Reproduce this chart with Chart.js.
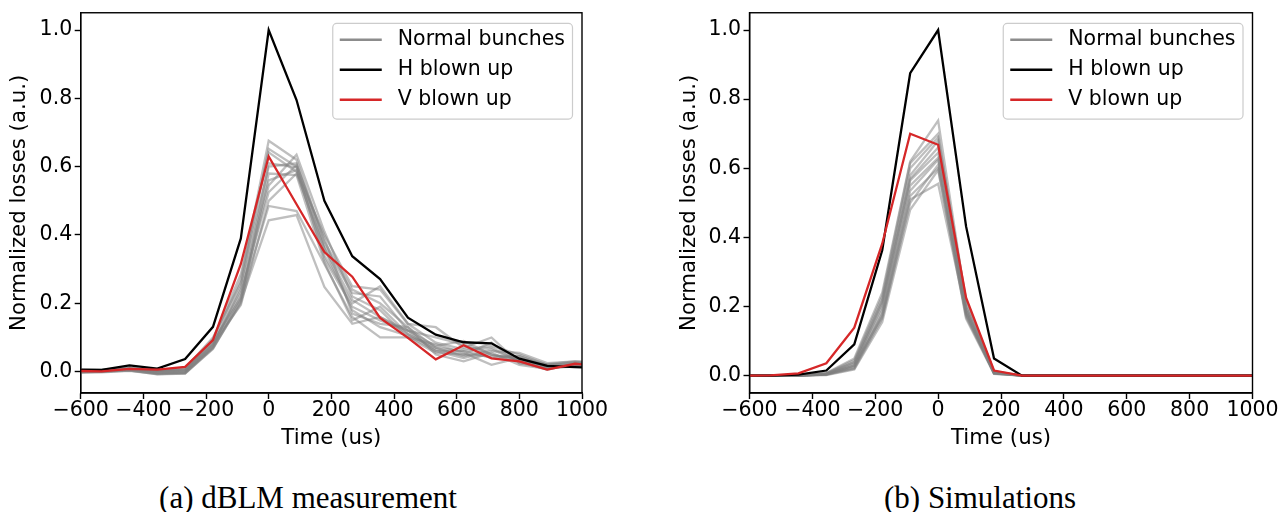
<!DOCTYPE html>
<html><head><meta charset="utf-8">
<script src="https://cdn.jsdelivr.net/npm/chart.js@4.4.1/dist/chart.umd.min.js"></script>
<style>
html,body{margin:0;padding:0;background:#fff;}
#wrap{position:relative;width:1288px;height:512px;overflow:hidden;background:#fff;}
canvas{position:absolute;top:0;}
.cap{position:absolute;top:482px;font-family:"Liberation Serif",serif;font-size:31px;line-height:31px;white-space:nowrap;text-align:center;width:400px;color:#000;}
</style></head><body>
<div id="wrap">
<canvas id="c1" width="644" height="460" style="left:0"></canvas>
<canvas id="c2" width="644" height="460" style="left:644px"></canvas>
<div class="cap" style="left:108px">(a) dBLM measurement</div>
<div class="cap" style="left:780px">(b) Simulations</div>
</div>
<script>
// ---------- data ----------
const times = [-622.2, -533.3, -444.4, -355.6, -266.7, -177.8, -88.9, 0, 88.9, 177.8, 266.7, 355.6, 444.4, 533.3, 622.2, 711.1, 800, 888.9, 977.8, 1066.7];

const xTicks = [-600, -400, -200, 0, 200, 400, 600, 800, 1000];
const yTicks = [0, 0.2, 0.4, 0.6, 0.8, 1.0];
const legendLabels = ['Normal bunches', 'H blown up', 'V blown up'];

// (a) dBLM measurement
const hMeas = [0.005, 0.005, 0.018, 0.009, 0.037, 0.131, 0.39, 1.0, 0.795, 0.50, 0.338, 0.271, 0.158, 0.108, 0.086, 0.083, 0.038, 0.017, 0.013, 0.01];
const vMeas = [0.002, 0.001, 0.008, 0.006, 0.014, 0.092, 0.315, 0.63, 0.49, 0.35, 0.278, 0.157, 0.099, 0.036, 0.077, 0.039, 0.03, 0.006, 0.023, 0.015];
const normalMeas = [
  [0.008, 0.004, 0.010, 0.002, 0.006, 0.085, 0.270, 0.676, 0.620, 0.380, 0.240, 0.200, 0.130, 0.070, 0.060, 0.070, 0.030, 0.015, 0.020, 0.020],
  [0.004, 0.002, 0.006, -0.004, -0.003, 0.075, 0.250, 0.652, 0.600, 0.360, 0.210, 0.160, 0.110, 0.065, 0.050, 0.045, 0.045, 0.020, 0.025, 0.018],
  [0.000, 0.003, 0.008, 0.000, 0.004, 0.095, 0.285, 0.642, 0.585, 0.400, 0.250, 0.240, 0.140, 0.130, 0.070, 0.100, 0.025, 0.010, 0.015, 0.020],
  [-0.003, 0.000, 0.004, -0.008, -0.006, 0.068, 0.210, 0.610, 0.598, 0.330, 0.190, 0.150, 0.120, 0.060, 0.040, 0.060, 0.055, 0.025, 0.030, 0.025],
  [0.006, 0.005, 0.012, 0.004, 0.010, 0.100, 0.260, 0.600, 0.610, 0.370, 0.230, 0.220, 0.120, 0.075, 0.090, 0.050, 0.035, 0.012, 0.020, 0.018],
  [0.002, 0.000, 0.005, -0.005, -0.004, 0.072, 0.220, 0.545, 0.635, 0.410, 0.220, 0.180, 0.100, 0.080, 0.055, 0.020, 0.040, 0.018, 0.028, 0.022],
  [-0.002, 0.001, 0.007, 0.002, 0.002, 0.080, 0.230, 0.525, 0.605, 0.390, 0.170, 0.140, 0.130, 0.050, 0.030, 0.055, 0.020, 0.008, 0.018, 0.020],
  [0.005, 0.003, 0.009, -0.002, 0.000, 0.078, 0.240, 0.560, 0.590, 0.340, 0.200, 0.250, 0.140, 0.085, 0.065, 0.075, 0.050, 0.020, 0.022, 0.025],
  [0.001, -0.001, 0.003, -0.006, -0.002, 0.070, 0.200, 0.580, 0.575, 0.320, 0.150, 0.190, 0.110, 0.070, 0.045, 0.065, 0.030, 0.005, 0.025, 0.020],
  [0.003, 0.002, 0.006, 0.001, 0.003, 0.082, 0.195, 0.500, 0.580, 0.360, 0.180, 0.130, 0.105, 0.060, 0.060, 0.040, 0.045, 0.015, 0.016, 0.018],
  [0.007, 0.004, 0.010, 0.003, 0.008, 0.090, 0.215, 0.485, 0.470, 0.315, 0.160, 0.100, 0.100, 0.055, 0.050, 0.085, 0.025, 0.022, 0.030, 0.028],
  [-0.004, -0.002, 0.002, -0.007, -0.005, 0.066, 0.205, 0.443, 0.458, 0.248, 0.140, 0.160, 0.120, 0.100, 0.080, 0.050, 0.035, 0.010, 0.020, 0.024]
];

// (b) Simulations
const hSim = [0, 0, 0.003, 0.015, 0.091, 0.363, 0.875, 1.0, 0.432, 0.05, 0, 0, 0, 0, 0, 0, 0, 0, 0, 0];
const vSim = [0, 0.001, 0.007, 0.036, 0.139, 0.382, 0.70, 0.668, 0.226, 0.015, 0, 0, 0, 0, 0, 0, 0, 0, 0, 0];
const normalSim = [
  [0, 0, 0.001, 0.008, 0.050, 0.240, 0.620, 0.738, 0.210, 0.012, 0, 0, 0, 0, 0, 0, 0, 0, 0, 0],
  [0, 0, 0.001, 0.007, 0.045, 0.230, 0.615, 0.700, 0.200, 0.010, 0, 0, 0, 0, 0, 0, 0, 0, 0, 0],
  [0, 0, 0.001, 0.006, 0.040, 0.220, 0.600, 0.690, 0.220, 0.013, 0, 0, 0, 0, 0, 0, 0, 0, 0, 0],
  [0, 0, 0.001, 0.006, 0.038, 0.215, 0.580, 0.680, 0.190, 0.009, 0, 0, 0, 0, 0, 0, 0, 0, 0, 0],
  [0, 0, 0.000, 0.005, 0.035, 0.200, 0.570, 0.660, 0.200, 0.008, 0, 0, 0, 0, 0, 0, 0, 0, 0, 0],
  [0, 0, 0.000, 0.005, 0.030, 0.210, 0.565, 0.645, 0.185, 0.010, 0, 0, 0, 0, 0, 0, 0, 0, 0, 0],
  [0, 0, 0.000, 0.004, 0.028, 0.190, 0.550, 0.630, 0.180, 0.007, 0, 0, 0, 0, 0, 0, 0, 0, 0, 0],
  [0, 0, 0.000, 0.004, 0.025, 0.180, 0.535, 0.625, 0.190, 0.009, 0, 0, 0, 0, 0, 0, 0, 0, 0, 0],
  [0, 0, 0.000, 0.003, 0.022, 0.175, 0.520, 0.600, 0.175, 0.006, 0, 0, 0, 0, 0, 0, 0, 0, 0, 0],
  [0, 0, 0.000, 0.003, 0.020, 0.165, 0.500, 0.610, 0.170, 0.008, 0, 0, 0, 0, 0, 0, 0, 0, 0, 0],
  [0, 0, 0.000, 0.002, 0.018, 0.155, 0.480, 0.595, 0.165, 0.005, 0, 0, 0, 0, 0, 0, 0, 0, 0, 0],
  [0, 0, 0.000, 0.004, 0.030, 0.170, 0.510, 0.555, 0.180, 0.007, 0, 0, 0, 0, 0, 0, 0, 0, 0, 0]
];

// ---------- styles ----------
const FONT = 'DejaVu Sans';
const FS = 20.5;
const FS_TITLE = 21.3;
const GRAY_LINE = 'rgba(128,128,128,0.5)';
const GRAY_HANDLE = '#8c8c8c';
const RED = '#d62728';
const LW = 2.3;

const framePlugin = {
  id: 'frame',
  afterDatasetsDraw(chart) {
    const a = chart.chartArea, ctx = chart.ctx;
    ctx.save();
    ctx.strokeStyle = '#000';
    ctx.lineWidth = 1.4;
    ctx.strokeRect(a.left, a.top, a.right - a.left, a.bottom - a.top);
    ctx.restore();
  }
};

const legendPlugin = {
  id: 'mplLegend',
  afterDraw(chart) {
    const ctx = chart.ctx, a = chart.chartArea;
    const colors = [GRAY_HANDLE, '#000', RED];
    ctx.save();
    ctx.font = FS + 'px "' + FONT + '"';
    const tw = Math.max(...legendLabels.map(t => ctx.measureText(t).width));
    const w = 7 + 42 + 16 + tw + 7.5;
    const h = 95.6;
    const x0 = a.right - 9.5 - w;
    const y0 = a.top + 10.7;
    ctx.beginPath();
    ctx.roundRect(x0, y0, w, h, 4);
    ctx.fillStyle = 'rgba(255,255,255,0.8)';
    ctx.fill();
    ctx.strokeStyle = '#cccccc';
    ctx.lineWidth = 1.2;
    ctx.stroke();
    legendLabels.forEach((t, i) => {
      const y = y0 + 16.3 + 30 * i;
      ctx.beginPath();
      ctx.moveTo(x0 + 7, y);
      ctx.lineTo(x0 + 49, y);
      ctx.strokeStyle = colors[i];
      ctx.lineWidth = LW;
      ctx.stroke();
      ctx.fillStyle = '#000';
      ctx.textBaseline = 'middle';
      ctx.textAlign = 'left';
      ctx.fillText(t, x0 + 65, y);
    });
    ctx.restore();
  }
};

function fmtX(v) { return v < 0 ? '\u2212' + Math.abs(v) : String(v); }

function build(id, normals, hData, vData, yMin, yMax, geo) {
  const pts = arr => arr.map((v, i) => ({ x: times[i], y: v }));
  const base = { pointRadius: 0, tension: 0, borderWidth: LW, fill: false };
  // lower "order" is drawn on top: V over H over the normal bunches
  const datasets = [];
  datasets.push(Object.assign({ data: pts(vData), borderColor: RED, order: 0 }, base));
  datasets.push(Object.assign({ data: pts(hData), borderColor: '#000', order: 1 }, base));
  normals.forEach((n, i) => datasets.push(Object.assign({ data: pts(n), borderColor: GRAY_LINE, order: 2 + i }, base)));
  new Chart(document.getElementById(id), {
    type: 'line',
    data: { datasets },
    options: {
      responsive: false, animation: false, devicePixelRatio: 1,
      layout: { padding: { left: 0, right: geo.padRight, top: 12, bottom: 0 } },
      plugins: { legend: { display: false }, tooltip: { enabled: false } },
      scales: {
        x: {
          type: 'linear', min: -600, max: 1000,
          afterBuildTicks: s => { s.ticks = xTicks.map(v => ({ value: v })); },
          afterFit: s => { s.height = 67; },
          grid: { display: true, drawOnChartArea: false, drawTicks: true, tickLength: 6, tickWidth: 1.4, tickColor: '#000' },
          border: { display: true, color: '#000', width: 1.4 },
          ticks: { font: { family: FONT, size: FS, lineHeight: 1.1 }, color: '#000', padding: 0, maxRotation: 0, autoSkip: false, callback: v => fmtX(v) },
          title: { display: true, text: 'Time (us)', color: '#000', font: { family: FONT, size: FS_TITLE, lineHeight: 1.2 }, padding: { top: 0, bottom: 9.0 } }
        },
        y: {
          type: 'linear', min: yMin, max: yMax,
          afterBuildTicks: s => { s.ticks = yTicks.map(v => ({ value: v })); },
          afterFit: s => { s.width = geo.yWidth; },
          grid: { display: true, drawOnChartArea: false, drawTicks: true, tickLength: 6, tickWidth: 1.4, tickColor: '#000' },
          border: { display: true, color: '#000', width: 1.4 },
          ticks: { font: { family: FONT, size: FS, lineHeight: 1.0 }, color: '#000', padding: 2.5, autoSkip: false, callback: v => v.toFixed(1) },
          title: { display: true, text: 'Normalized losses (a.u.)', color: '#000', font: { family: FONT, size: FS_TITLE, lineHeight: 1.2 }, padding: { top: geo.yTitlePad, bottom: 0 } }
        }
      }
    },
    plugins: [framePlugin, legendPlugin]
  });
}

build('c1', normalMeas, hMeas, vMeas, -0.0626, 1.0506, { padRight: 62, yWidth: 80.7, yTitlePad: 6.5 });
build('c2', normalSim, hSim, vSim, -0.05, 1.05, { padRight: 35.5, yWidth: 105.5, yTitlePad: 32.4 });
</script>
</body></html>
